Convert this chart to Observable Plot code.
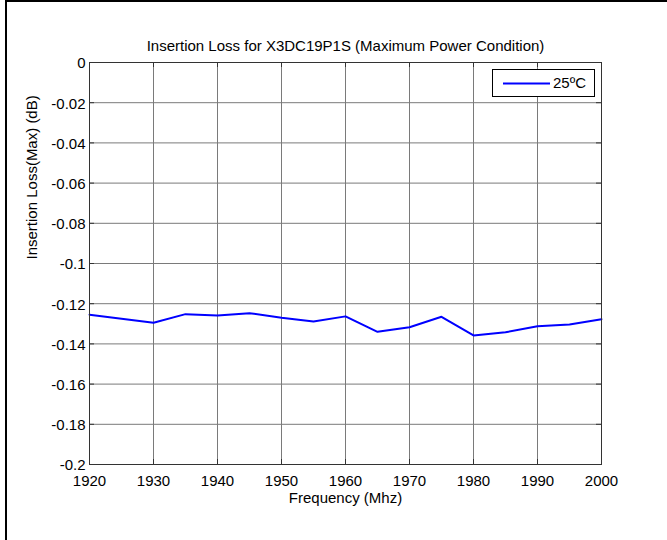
<!DOCTYPE html>
<html><head><meta charset="utf-8">
<script src="https://cdn.jsdelivr.net/npm/d3@7"></script>
<script src="https://cdn.jsdelivr.net/npm/@observablehq/plot@0.6"></script>
<style>
body{margin:0;background:#fff;}
#wrap{position:relative;width:667px;height:540px;overflow:hidden;font-family:"Liberation Sans",Arial,sans-serif;}
#border{position:absolute;left:5px;top:0;width:700px;height:600px;border-top:2px solid #000;border-left:2px solid #000;pointer-events:none;}
#legend{position:absolute;left:492px;top:69px;width:101px;height:26px;border:1px solid #000;background:#fff;font-size:15px;}
#legend svg{position:absolute;left:9px;top:0;}
#legend span{position:absolute;left:60px;top:4px;}
</style></head><body>
<div id="wrap"><div id="border"></div></div>
<script>
const title = "Insertion Loss for X3DC19P1S (Maximum Power Condition)";
const xLabel = "Frequency (Mhz)";
const yLabel = "Insertion Loss(Max) (dB)";
const seriesName = "25\u00baC";
const freq = [1920,1930,1935,1940,1945,1950,1955,1960,1965,1970,1975,1980,1985,1990,1995,2000];
const loss = [-0.1255,-0.1295,-0.1252,-0.1259,-0.1247,-0.127,-0.1289,-0.1263,-0.134,-0.1317,-0.1265,-0.1358,-0.1342,-0.1312,-0.1304,-0.1277];
const xTicks = [1920,1930,1940,1950,1960,1970,1980,1990,2000];
const yTicks = [0,-0.02,-0.04,-0.06,-0.08,-0.1,-0.12,-0.14,-0.16,-0.18,-0.2];
const yTickLabels = ["0","-0.02","-0.04","-0.06","-0.08","-0.1","-0.12","-0.14","-0.16","-0.18","-0.2"];

const data = freq.map((f,i)=>({f, v: loss[i]}));
const W = 667, H = 540, mL = 89, mR = 66, mT = 62, mB = 76;
const pw = W - mL - mR, ph = H - mT - mB;
const tick = 5;

const chart = Plot.plot({
  width: W, height: H,
  marginLeft: mL, marginRight: mR, marginTop: mT, marginBottom: mB,
  style: {fontFamily: '"Liberation Sans", Arial, sans-serif', fontSize: "15px", color: "#000", background: "transparent", overflow: "visible"},
  x: {domain: [1920, 2000], axis: null},
  y: {domain: [-0.2, 0], axis: null},
  marks: [
    Plot.gridX(xTicks, {stroke: "#7a7a7a", strokeOpacity: 1}),
    Plot.gridY(yTicks, {stroke: "#7a7a7a", strokeOpacity: 1}),
    Plot.line(data, {x: "f", y: "v", stroke: "#0000ff", strokeWidth: 2}),
    Plot.frame({stroke: "#333"}),
    Plot.tickX(xTicks, {x: d => d, insetTop: ph - tick, stroke: "#333"}),
    Plot.tickX(xTicks, {x: d => d, insetBottom: ph - tick, stroke: "#333"}),
    Plot.tickY(yTicks, {y: d => d, insetRight: pw - tick, stroke: "#333"}),
    Plot.tickY(yTicks, {y: d => d, insetLeft: pw - tick, stroke: "#333"}),
    Plot.text(xTicks, {x: d => d, frameAnchor: "bottom", lineAnchor: "middle", dy: 17, text: d => String(d), fill: "#000"}),
    Plot.text(yTicks, {y: d => d, frameAnchor: "left", lineAnchor: "middle", textAnchor: "end", dx: -4, dy: 1, text: (d, i) => yTickLabels[i], fill: "#000"}),
    Plot.text([title], {frameAnchor: "top", lineAnchor: "middle", dy: -16, text: d => d, fill: "#000"}),
    Plot.text([xLabel], {frameAnchor: "bottom", lineAnchor: "middle", dy: 34, text: d => d, fill: "#000"}),
    Plot.text([yLabel], {frameAnchor: "left", lineAnchor: "middle", dx: -57, dy: -4, rotate: -90, text: d => d, fill: "#000"})
  ]
});
const wrap = document.getElementById("wrap");
wrap.insertBefore(chart, wrap.firstChild);

const leg = document.createElement("div");
leg.id = "legend";
leg.innerHTML = '<svg width="50" height="26"><line x1="1" x2="48" y1="13.5" y2="13.5" stroke="#0000ff" stroke-width="2"/></svg><span></span>';
leg.querySelector("span").textContent = seriesName;
wrap.appendChild(leg);
</script>
</body></html>
